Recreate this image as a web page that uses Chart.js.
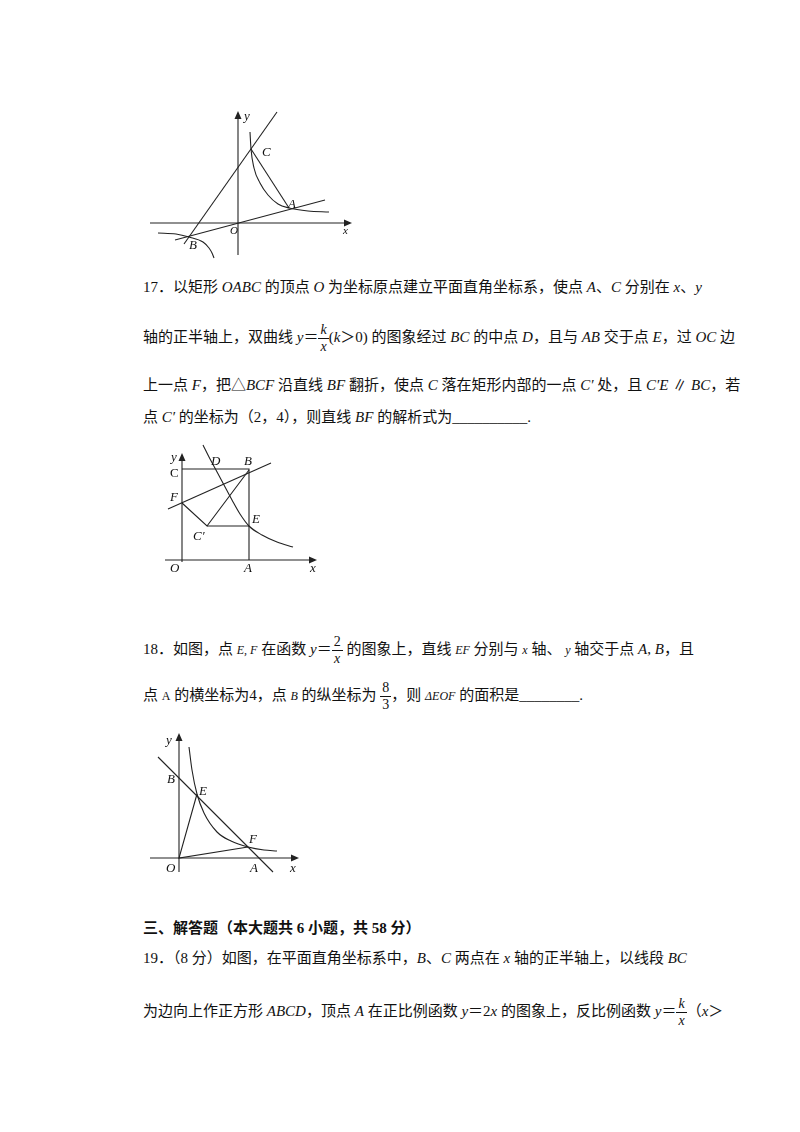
<!DOCTYPE html>
<html><head><meta charset="utf-8">
<script src="https://cdn.jsdelivr.net/npm/chart.js@4"></script>
<style>
body{margin:0;width:800px;height:1132px;background:#fff;position:relative;font-family:"Liberation Serif","Noto Sans CJK SC",serif;color:#111;}
.t{position:absolute;font-size:15px;white-space:nowrap;}
.t i{font-family:"Liberation Serif",serif;}
.fr{display:inline-block;vertical-align:middle;text-align:center;font-size:14px;line-height:16px;font-family:"Liberation Serif",serif;font-style:italic;}
.fr span{display:block;padding:0 2px;}
.fr span:first-child{border-bottom:1px solid #111;}
.lb{position:absolute;font:italic 13px "Liberation Serif",serif;}
canvas{position:absolute;}
</style></head><body>

<!-- figure 1 (units ~ page px, origin at O) -->
<canvas id="f1" style="left:140px;top:100px;width:220px;height:165px"></canvas>
<div class="lb" style="left:244px;top:108px">y</div>
<div class="lb" style="left:262px;top:144px">C</div>
<div class="lb" style="left:288px;top:196px">A</div>
<div class="lb" style="left:230px;top:224px;font-size:11px">O</div>
<div class="lb" style="left:343px;top:224px;font-size:11px">x</div>
<div class="lb" style="left:189px;top:237px">B</div>

<div class="t" style="left:143px;top:275px">17．以矩形 <i>OABC</i> 的顶点 <i>O</i> 为坐标原点建立平面直角坐标系，使点 <i>A</i>、<i>C</i> 分别在 <i>x</i>、<i>y</i></div>
<div class="t" style="left:143px;top:322px">轴的正半轴上，双曲线 <i>y</i>＝<span class="fr"><span>k</span><span>x</span></span>(<i>k</i>＞0) 的图象经过 <i>BC</i> 的中点 <i>D</i>，且与 <i>AB</i> 交于点 <i>E</i>，过 <i>OC</i> 边</div>
<div class="t" style="left:143px;top:373px">上一点 <i>F</i>，把△<i>BCF</i> 沿直线 <i>BF</i> 翻折，使点 <i>C</i> 落在矩形内部的一点 <i>C′</i> 处，且 <i>C′E</i> ∥ <i>BC</i>，若</div>
<div class="t" style="left:143px;top:405px">点 <i>C′</i> 的坐标为（2，4），则直线 <i>BF</i> 的解析式为__________.</div>

<canvas id="f2" style="left:150px;top:440px;width:180px;height:140px"></canvas>
<div class="lb" style="left:171px;top:449px">y</div>
<div class="lb" style="left:170px;top:465px;font-style:normal">C</div>
<div class="lb" style="left:211px;top:453px">D</div>
<div class="lb" style="left:244px;top:453px">B</div>
<div class="lb" style="left:170px;top:489px">F</div>
<div class="lb" style="left:252px;top:511px">E</div>
<div class="lb" style="left:193px;top:528px">C′</div>
<div class="lb" style="left:170px;top:560px">O</div>
<div class="lb" style="left:244px;top:560px">A</div>
<div class="lb" style="left:310px;top:560px">x</div>

<div class="t" style="left:143px;top:634px">18．如图，点 <i style="font-size:12px">E, F</i> 在函数 <i>y</i>＝<span class="fr"><span style="font-style:normal">2</span><span>x</span></span> 的图象上，直线 <i style="font-size:12px">EF</i> 分别与 <i style="font-size:12px">x</i> 轴、 <i style="font-size:12px">y</i> 轴交于点 <i>A</i>, <i>B</i>，且</div>
<div class="t" style="left:143px;top:680px">点 <span style="font-size:12px">A</span> 的横坐标为4，点 <i style="font-size:12px">B</i> 的纵坐标为 <span class="fr"><span style="font-style:normal">8</span><span style="font-style:normal">3</span></span>，则 <i style="font-size:12px">ΔEOF</i> 的面积是________.</div>

<canvas id="f3" style="left:140px;top:725px;width:170px;height:155px"></canvas>
<div class="lb" style="left:166px;top:732px">y</div>
<div class="lb" style="left:167px;top:771px">B</div>
<div class="lb" style="left:199px;top:783px">E</div>
<div class="lb" style="left:249px;top:831px">F</div>
<div class="lb" style="left:166px;top:860px">O</div>
<div class="lb" style="left:250px;top:860px">A</div>
<div class="lb" style="left:290px;top:860px">x</div>

<div class="t" style="left:143px;top:916px;font-weight:bold">三、解答题（本大题共 6 小题，共 58 分）</div>
<div class="t" style="left:143px;top:946px">19．（8 分）如图，在平面直角坐标系中，<i>B</i>、<i>C</i> 两点在 <i>x</i> 轴的正半轴上，以线段 <i>BC</i></div>
<div class="t" style="left:143px;top:996px">为边向上作正方形 <i>ABCD</i>，顶点 <i>A</i> 在正比例函数 <i>y</i>＝2<i>x</i> 的图象上，反比例函数 <i>y</i>＝<span class="fr"><span>k</span><span>x</span></span>（<i>x</i>＞</div>

<script>
// figure 1 (offsets from O, page px, y up)
var f1Axes = [[[-88, 0], [112, 0]], [[0, -32], [0, 110]]];
var f1LineBC = [[-54, -21], [39, 111]];
var f1LineBA = [[-63, -17], [87, 23]];
var f1SegCA = [[13, 74], [51, 15]];
var f1CurveRight = [[12, 91], [13, 74], [16, 55], [22, 40], [30, 28], [40, 19], [51, 15], [70, 12], [91, 11]];
var f1CurveLeft = [[-80, -10], [-62, -11], [-49, -14], [-35, -19], [-29, -25], [-26, -30], [-24, -35]];

// figure 2
var f2Axes = [[[-17, 0], [133, 0]], [[0, -2], [0, 105]]];
var f2Rect = [[0, 91], [67, 91], [67, 0]];
var f2LineFB = [[-14, 51], [89, 97]];
var f2Fold = [[0, 57], [25, 34], [67, 90]];
var f2SegCE = [[25, 34], [67, 34]];
var f2Curve = [[21, 115], [27, 103], [34, 90], [42, 75], [50, 60], [58, 46], [67, 34], [80, 25], [95, 18], [111, 13]];

// figure 3
var f3Axes = [[[-29, 0], [118, 0]], [[0, -14], [0, 123]]];
var f3LineAB = [[-21, 101], [94, -14]];
var f3Tri = [[18, 64], [0, 0], [69, 11]];
var f3Curve = [[10, 111], [13, 88], [18, 64], [25, 45], [38, 26], [52, 17], [69, 11], [85, 8], [98, 7]];

function pts(a) { return a.map(function (p) { return { x: p[0], y: p[1] }; }); }

function makeFig(id, box, origin, lines, curves, axes) {
  var ds = [];
  axes.concat(lines).forEach(function (l) {
    ds.push({ data: pts(l), showLine: true, borderColor: '#222', borderWidth: 1.1, pointRadius: 0 });
  });
  curves.forEach(function (c) {
    ds.push({ data: pts(c), showLine: true, borderColor: '#222', borderWidth: 1.1, pointRadius: 0, cubicInterpolationMode: 'monotone' });
  });
  new Chart(document.getElementById(id), {
    type: 'scatter',
    data: { datasets: ds },
    options: {
      responsive: false, animation: false, maintainAspectRatio: false,
      layout: { padding: 0 },
      plugins: { legend: { display: false }, tooltip: { enabled: false } },
      scales: {
        x: { display: false, min: box.l - origin[0], max: box.l + box.w - origin[0] },
        y: { display: false, min: origin[1] - box.t - box.h, max: origin[1] - box.t }
      }
    },
    plugins: [{
      id: 'arrows',
      afterDatasetsDraw: function (chart) {
        var c = chart.ctx, sx = chart.scales.x, sy = chart.scales.y;
        var xe = axes[0][1], ye = axes[1][1];
        c.save();
        c.fillStyle = '#222';
        var px = sx.getPixelForValue(xe[0]), py = sy.getPixelForValue(0);
        c.beginPath(); c.moveTo(px + 2, py); c.lineTo(px - 6, py - 3.5); c.lineTo(px - 6, py + 3.5); c.fill();
        px = sx.getPixelForValue(0); py = sy.getPixelForValue(ye[1]);
        c.beginPath(); c.moveTo(px, py - 2); c.lineTo(px - 3.5, py + 6); c.lineTo(px + 3.5, py + 6); c.fill();
        c.restore();
      }
    }]
  });
}

['f1', 'f2', 'f3'].forEach(function (id) {
  var el = document.getElementById(id);
  el.width = parseInt(el.style.width); el.height = parseInt(el.style.height);
});

makeFig('f1', { l: 140, t: 100, w: 220, h: 165 }, [238, 223],
  [f1LineBC, f1LineBA, f1SegCA], [f1CurveRight, f1CurveLeft], f1Axes);
makeFig('f2', { l: 150, t: 440, w: 180, h: 140 }, [182, 560],
  [f2Rect, f2LineFB, f2Fold, f2SegCE], [f2Curve], f2Axes);
makeFig('f3', { l: 140, t: 725, w: 170, h: 155 }, [179, 858],
  [f3LineAB, f3Tri], [f3Curve], f3Axes);
</script>
</body></html>
